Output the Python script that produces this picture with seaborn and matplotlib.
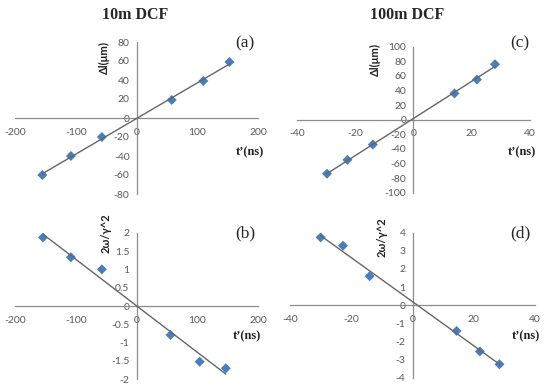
import numpy as np
import pandas as pd
import seaborn as sns
import matplotlib.pyplot as plt

# values
t_10m = [-155, -108, -57, 58, 110, 153]
dl_10m = [-60, -40, -20, 19, 39, 59]
t_10m_b = [-154, -108, -57, 56, 104, 147]
w_10m = [1.87, 1.33, 1.0, -0.79, -1.52, -1.70]

t_100m = [-29.6, -22.6, -13.9, 14.1, 21.8, 28.0]
dl_100m = [-74, -55, -34, 36, 55, 76]
t_100m_d = [-30.0, -22.7, -14.0, 14.4, 22.0, 28.4]
w_100m = [3.74, 3.28, 1.6, -1.42, -2.55, -3.26]

sns.set_style('white')
plt.rcParams['font.family'] = ['Lato', 'DejaVu Sans']

W, H = 550, 390
fig = plt.figure(figsize=(5.5, 3.9), dpi=100)

marker_color = '#4A7EBB'
line_color = '#666666'
axis_color = '#8c8c8c'
tick_color = '#595959'


def px(x, y):
    return x / W, 1 - y / H


def make_ax(x0, x1, ytop, ybot):
    l, b = px(x0, ybot)
    return fig.add_axes([l, b, (x1 - x0) / W, (ybot - ytop) / H])


def draw(ax, x, y, xlim, xticks, ylim, yticks):
    df = pd.DataFrame({'x': x, 'y': y})
    sns.scatterplot(data=df, x='x', y='y', ax=ax, marker='D', s=26,
                    color=marker_color, edgecolor='none', zorder=2)
    sns.regplot(data=df, x='x', y='y', ax=ax, scatter=False, ci=None,
                truncate=True, color=line_color, line_kws={'lw': 1.0, 'zorder': 3})
    ax.set_xlim(xlim)
    ax.set_ylim(ylim)
    ax.set_xticks(xticks)
    ax.set_yticks(yticks)
    ax.set_xticklabels([f'{v:g}' for v in xticks])
    ax.set_yticklabels([f'{v:g}' for v in yticks])
    ax.set_xlabel('')
    ax.set_ylabel('')
    for s in ['top', 'right']:
        ax.spines[s].set_visible(False)
    for s in ['left', 'bottom']:
        ax.spines[s].set_position(('data', 0))
        ax.spines[s].set_color(axis_color)
        ax.spines[s].set_linewidth(0.9)
    ax.tick_params(length=0, labelsize=7.5, labelcolor=tick_color)
    ax.tick_params(axis='x', pad=7)
    ax.tick_params(axis='y', pad=5)
    ax.patch.set_alpha(0)
    ax.grid(False)


ax_a = make_ax(15, 258, 42, 194)
draw(ax_a, t_10m, dl_10m, (-200, 200), [-200, -100, 0, 100, 200],
     (-80, 80), list(range(-80, 81, 20)))

ax_c = make_ax(296.7, 530, 46.7, 192.7)
draw(ax_c, t_100m, dl_100m, (-40, 40), [-40, -20, 0, 20, 40],
     (-100, 100), list(range(-100, 101, 20)))

ax_b = make_ax(15, 258, 232.7, 379.3)
draw(ax_b, t_10m_b, w_10m, (-200, 200), [-200, -100, 0, 100, 200],
     (-2, 2), [-2, -1.5, -1, -0.5, 0, 0.5, 1, 1.5, 2])

ax_d = make_ax(290, 535, 232.7, 377.7)
draw(ax_d, t_100m_d, w_100m, (-40, 40), [-40, -20, 0, 20, 40],
     (-4, 4), list(range(-4, 5)))

# titles
serif = ['Liberation Serif', 'DejaVu Serif']
fig.text(*px(135, 15), '10m DCF', ha='center', va='center', fontsize=11.5,
         fontweight='bold', family=serif)
fig.text(*px(407, 15), '100m DCF', ha='center', va='center', fontsize=11.5,
         fontweight='bold', family=serif)

# panel letters
for (x, y), lab in zip([(245, 43), (520, 43), (245, 233), (520, 233)],
                       ['(a)', '(c)', '(b)', '(d)']):
    fig.text(*px(x, y), lab, ha='center', va='center', fontsize=12.5, family=serif)

# axis labels
for (x, y), lab in zip([(104, 58), (375, 59), (106, 233), (382, 237)],
                       ['Δl(μm)', 'Δl(μm)', '2ω/γ^2', '2ω/γ^2']):
    fig.text(*px(x, y), lab, ha='center', va='center', rotation=90,
             fontsize=8, fontweight='bold', color='#222222')
for (x, y) in [(250, 152), (522, 152), (247, 336), (526, 336)]:
    fig.text(*px(x, y), "t\u2019(ns)", ha='center', va='center', fontsize=9,
             fontweight='bold', color='#222222', family=serif)

fig.savefig('out.png', dpi=100)
